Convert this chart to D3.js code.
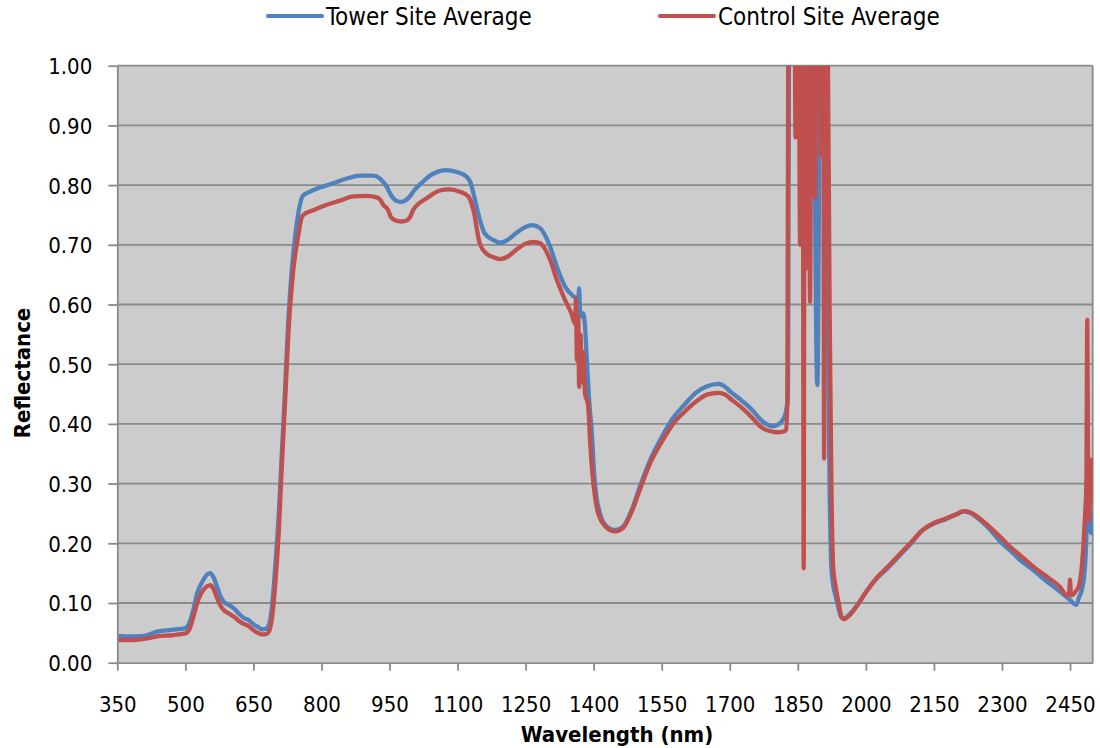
<!DOCTYPE html>
<html>
<head>
<meta charset="utf-8">
<script src="https://cdn.jsdelivr.net/npm/d3@7"></script>
<style>
  html, body { margin: 0; padding: 0; background: #ffffff; }
  svg { display: block; }
  .tick text { font-family: "DejaVu Sans Condensed", "Liberation Sans", sans-serif; font-size: 22px; fill: #000; }
</style>
</head>
<body>
<svg id="chart" width="1100" height="748"></svg>
<script>
// Spectral reflectance, wavelength in nm
const towerWavelength = [
  350,380,410,438,470,500,511,518,526,540,548,555,562,570,578,585,595,607,618,629,640,651,660,669,678,684,691,698,706,712,720,727,734,742,749,759,775,797,826,856,885,914,929,944,952,958,967,977,988,995,1002,1024,1046,1076,1098,1120,1128,1135,1149,1160,1179,1194,1210,1230,1250,1265,1282,1304,1319,1337,1355,1363,1366,1368,1370,1373,1377,1381,1385,1390,1396,1401,1405,1414,1429,1447,1465,1484,1502,1525,1550,1575,1600,1625,1650,1675,1690,1700,1725,1750,1767,1780,1794,1805,1818,1825,1828,1831,1886,1888,1893,1896,1898,1912,1916,1920,1924,1928,1934,1940,1946,1952,1965,1980,2000,2025,2050,2075,2100,2125,2150,2175,2200,2215,2230,2250,2275,2296,2318,2340,2369,2399,2428,2450,2464,2470,2476,2483,2488,2490,2493,2497,2500
];
const towerReflectance = [
  0.045,0.044,0.045,0.052,0.055,0.058,0.071,0.090,0.116,0.139,0.148,0.150,0.143,0.127,0.110,0.102,0.097,0.091,0.082,0.075,0.071,0.064,0.060,0.056,0.057,0.063,0.094,0.160,0.250,0.340,0.460,0.574,0.652,0.714,0.753,0.782,0.789,0.796,0.803,0.811,0.816,0.816,0.811,0.797,0.785,0.778,0.773,0.772,0.776,0.781,0.789,0.806,0.819,0.825,0.822,0.814,0.805,0.786,0.742,0.719,0.708,0.7035,0.708,0.720,0.730,0.733,0.728,0.697,0.663,0.630,0.614,0.610,0.600,0.627,0.590,0.580,0.585,0.563,0.507,0.440,0.384,0.317,0.284,0.250,0.228,0.222,0.228,0.256,0.295,0.340,0.378,0.410,0.432,0.452,0.463,0.467,0.462,0.455,0.440,0.423,0.408,0.400,0.396,0.398,0.408,0.425,0.443,1.05,1.05,0.785,0.465,0.700,1.05,1.05,0.600,0.300,0.160,0.130,0.110,0.090,0.076,0.074,0.082,0.095,0.118,0.142,0.160,0.180,0.200,0.222,0.233,0.240,0.248,0.253,0.251,0.240,0.222,0.203,0.188,0.172,0.155,0.136,0.119,0.105,0.097,0.110,0.122,0.161,0.260,0.328,0.240,0.217,0.250
];
const controlWavelength = [
  350,380,410,438,470,500,511,518,526,540,548,555,562,570,578,585,595,607,618,629,640,651,660,669,678,684,691,698,706,712,720,727,738,749,756,760,782,812,841,870,900,922,930,936,947,952,958,967,977,988,995,1002,1032,1061,1083,1105,1124,1135,1149,1164,1179,1194,1210,1230,1250,1268,1282,1304,1319,1337,1351,1359,1361,1363,1366,1368,1371,1374,1377,1381,1385,1388,1392,1398,1402,1410,1429,1447,1465,1484,1502,1525,1550,1575,1600,1625,1650,1675,1690,1700,1725,1750,1767,1780,1794,1805,1818,1824,1827,1829,1843,1845,1848,1852,1855,1858,1861,1863,1865,1868,1871,1874,1877,1880,1885,1888,1891,1898,1901,1903,1906,1908,1910,1916,1920,1924,1928,1934,1940,1946,1952,1965,1980,2000,2025,2050,2075,2100,2125,2150,2175,2200,2215,2230,2250,2275,2296,2318,2340,2369,2399,2428,2443,2448,2450,2452,2458,2463,2469,2476,2483,2486,2488,2490,2492,2495,2497,2499,2500
];
const controlReflectance = [
  0.038,0.038,0.040,0.044,0.046,0.049,0.060,0.078,0.0995,0.122,0.128,0.130,0.124,0.108,0.095,0.088,0.083,0.077,0.070,0.065,0.061,0.054,0.050,0.0475,0.048,0.052,0.075,0.130,0.220,0.320,0.440,0.550,0.658,0.716,0.745,0.750,0.758,0.767,0.774,0.781,0.782,0.7795,0.775,0.767,0.758,0.748,0.743,0.740,0.739,0.741,0.746,0.758,0.778,0.791,0.793,0.789,0.781,0.758,0.702,0.685,0.679,0.676,0.680,0.692,0.702,0.705,0.7025,0.675,0.641,0.6075,0.585,0.568,0.610,0.507,0.580,0.462,0.550,0.470,0.520,0.450,0.440,0.429,0.373,0.310,0.284,0.250,0.226,0.220,0.226,0.253,0.290,0.335,0.370,0.400,0.420,0.437,0.449,0.452,0.449,0.443,0.428,0.410,0.396,0.390,0.387,0.386,0.387,0.390,0.440,1.05,1.07,0.880,1.06,1.05,0.700,1.06,1.05,0.158,1.05,0.660,1.06,1.05,0.605,1.06,1.05,0.780,1.06,1.05,0.850,1.06,1.05,0.342,1.05,1.04,0.600,0.300,0.160,0.125,0.100,0.078,0.073,0.080,0.095,0.118,0.143,0.162,0.182,0.202,0.222,0.234,0.241,0.249,0.254,0.252,0.242,0.226,0.211,0.194,0.180,0.161,0.144,0.127,0.113,0.118,0.139,0.113,0.115,0.120,0.127,0.161,0.245,0.300,0.574,0.300,0.239,0.300,0.340,0.272,0.300
];
const xTicks = [350,500,650,800,950,1100,1250,1400,1550,1700,1850,2000,2150,2300,2450];
const yTicks = [0,0.1,0.2,0.3,0.4,0.5,0.6,0.7,0.8,0.9,1.0];
const seriesNames = ["Tower Site Average", "Control Site Average"];
const seriesColors = ["#4f81bd", "#c0504d"];

const svg = d3.select("#chart");
const plotLeft = 117.3, plotRight = 1092.7, plotTop = 65.7, plotBottom = 662.7;
const x = d3.scaleLinear().domain([350, 2500]).range([plotLeft, plotRight]);
const y = d3.scaleLinear().domain([0, 1]).range([plotBottom, plotTop]);
const labelFont = '"DejaVu Sans Condensed", "Liberation Sans", sans-serif';
const axisGray = "#8a8a8a";

// plot area
svg.append("rect")
  .attr("x", plotLeft).attr("y", plotTop)
  .attr("width", plotRight - plotLeft).attr("height", plotBottom - plotTop)
  .attr("fill", "#cccccc");

// horizontal gridlines
svg.append("g").selectAll("line").data(yTicks.filter(d => d > 0)).join("line")
  .attr("x1", plotLeft).attr("x2", plotRight)
  .attr("y1", d => y(d)).attr("y2", d => y(d))
  .attr("stroke", axisGray).attr("stroke-width", 1.8);

// right border of the plot area
svg.append("line")
  .attr("x1", plotRight).attr("x2", plotRight).attr("y1", plotTop).attr("y2", plotBottom)
  .attr("stroke", axisGray).attr("stroke-width", 1.8);

svg.append("clipPath").attr("id", "plotClip")
  .append("rect").attr("x", plotLeft).attr("y", plotTop)
  .attr("width", plotRight - plotLeft).attr("height", plotBottom - plotTop);

const line = d3.line().curve(d3.curveMonotoneX).x(d => x(d[0])).y(d => y(d[1]));
const series = [
  d3.zip(towerWavelength, towerReflectance),
  d3.zip(controlWavelength, controlReflectance)
];
svg.append("g").attr("clip-path", "url(#plotClip)")
  .selectAll("path").data(series).join("path")
  .attr("d", line)
  .attr("fill", "none")
  .attr("stroke", (d, i) => seriesColors[i])
  .attr("stroke-width", 4.3)
  .attr("stroke-linejoin", "round")
  .attr("stroke-linecap", "round");

// y axis
const yAxis = svg.append("g").attr("transform", `translate(${plotLeft},0)`)
  .call(d3.axisLeft(y).tickValues(yTicks).tickFormat(d3.format(".2f")).tickSize(9).tickSizeOuter(0).tickPadding(16));
// x axis
const xAxis = svg.append("g").attr("transform", `translate(0,${plotBottom})`)
  .call(d3.axisBottom(x).tickValues(xTicks).tickFormat(d3.format("d")).tickSize(8).tickSizeOuter(0).tickPadding(26));
[yAxis, xAxis].forEach(g => {
  g.select(".domain").attr("stroke", axisGray).attr("stroke-width", 1.8);
  g.selectAll(".tick line").attr("stroke", axisGray).attr("stroke-width", 1.8);
  g.selectAll(".tick text").attr("font-family", null).attr("font-size", null);
});
yAxis.selectAll(".tick text").attr("dy", "0.36em");

// axis titles
svg.append("text")
  .attr("x", 617).attr("y", 742)
  .attr("text-anchor", "middle")
  .attr("font-family", labelFont).attr("font-size", 22).attr("font-weight", "bold")
  .text("Wavelength (nm)");
svg.append("text")
  .attr("transform", "translate(29.5,373) rotate(-90)")
  .attr("text-anchor", "middle")
  .attr("font-family", labelFont).attr("font-size", 22).attr("font-weight", "bold")
  .text("Reflectance");

// legend
const legendX = [268, 660];
const lg = svg.append("g").selectAll("g").data(seriesNames).join("g")
  .attr("transform", (d, i) => `translate(${legendX[i]},16)`);
lg.append("line").attr("x1", 0).attr("x2", 54).attr("y1", 0).attr("y2", 0)
  .attr("stroke", (d, i) => seriesColors[i]).attr("stroke-width", 4).attr("stroke-linecap", "round");
lg.append("text").attr("x", 58).attr("y", 8.5)
  .attr("font-family", labelFont).attr("font-size", 24)
  .text(d => d);
</script>
</body>
</html>
